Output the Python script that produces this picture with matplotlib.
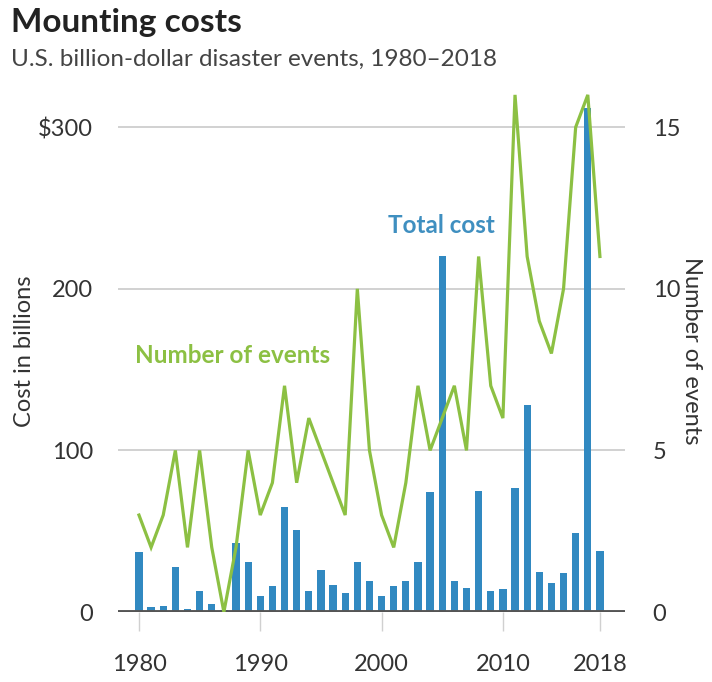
import numpy as np
import matplotlib
matplotlib.use("Agg")
import matplotlib.pyplot as plt

plt.rcParams['font.family'] = ['Lato', 'DejaVu Sans']

years = list(range(1980, 2019))
# total cost per year, billions of dollars
cost = [37, 3, 4, 28, 2, 13, 5, 1, 43, 31,
        10, 16, 65, 51, 13, 26, 17, 12, 31, 19,
        10, 16, 19, 31, 74, 220, 19, 15, 75, 13,
        14, 77, 128, 25, 18, 24, 49, 312, 38]
# number of billion-dollar events per year
events = [3, 2, 3, 5, 2, 5, 2, 0, 2, 5,
          3, 4, 7, 4, 6, 5, 4, 3, 10, 5,
          3, 2, 4, 7, 5, 6, 7, 5, 11, 7,
          6, 16, 11, 9, 8, 10, 15, 16, 11]

cost_ticks = [0, 100, 200, 300]
cost_labels = ['0', '100', '200', '$300']
event_ticks = [0, 5, 10, 15]
year_ticks = [1980, 1990, 2000, 2010, 2018]

bar_color = '#3189c1'
line_color = '#8cc043'
text_gray = '#333333'

fig = plt.figure(figsize=(7.12, 6.82), dpi=100)
ax = fig.add_axes([0.1657, 0.1026, 0.712, 0.7654])

ax.bar(years, cost, width=0.6, color=bar_color, zorder=2)
for t in cost_ticks[1:]:
    ax.axhline(t, color='#c9c9c9', lw=1.2, zorder=1)
ax.axhline(0, color='#555555', lw=2.8, zorder=4)

ax.set_xlim(1978.27, 2020.06)
ax.set_ylim(0, 323)
ax.set_yticks(cost_ticks)
ax.set_yticklabels(cost_labels)
ax.set_xticks(year_ticks)
ax.tick_params(axis='y', length=0, pad=18, labelsize=17, labelcolor=text_gray)
ax.tick_params(axis='x', length=14, width=1, color='#d0d0d0', pad=16,
               labelsize=17, labelcolor=text_gray)
for s in ax.spines.values():
    s.set_visible(False)
ax.set_ylabel('Cost in billions', fontsize=17, color=text_gray, labelpad=2)

ax2 = ax.twinx()
ax2.plot(years, events, color=line_color, lw=2.3, zorder=5,
         solid_joinstyle='miter')
ax2.set_ylim(0, 323 / 20)
ax2.set_yticks(event_ticks)
ax2.tick_params(axis='y', length=0, pad=20, labelsize=17, labelcolor=text_gray)
for s in ax2.spines.values():
    s.set_visible(False)
ax2.set_ylabel('Number of events', fontsize=17, color=text_gray,
               rotation=270, labelpad=16)

ax.text(2000.5, 239, 'Total cost', color='#3f8fc0', fontsize=17.5,
        fontweight='bold', va='center', ha='left')
ax.text(1979.65, 159, 'Number of events', color=line_color, fontsize=17.5,
        fontweight='bold', va='center', ha='left')

fig.text(0.015, 0.988, 'Mounting costs', fontsize=24, fontweight='bold',
         color='#222222', va='top', ha='left')
fig.text(0.015, 0.928, 'U.S. billion-dollar disaster events, 1980\u20132018',
         fontsize=17.5, color='#444444', va='top', ha='left')

fig.savefig('out.png', dpi=100)
